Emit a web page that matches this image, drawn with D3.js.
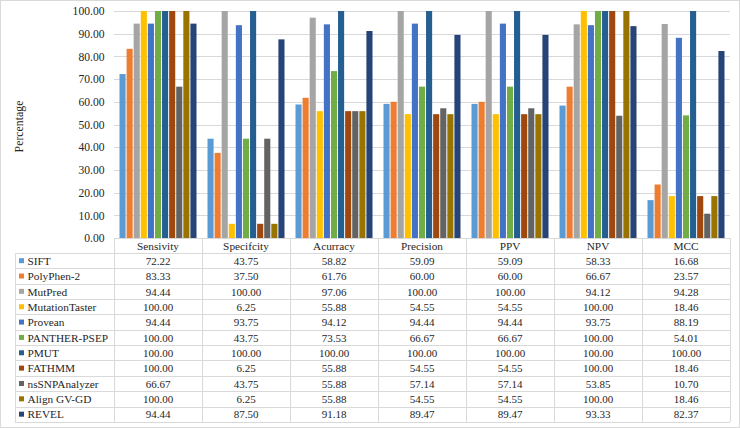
<!DOCTYPE html>
<html><head><meta charset="utf-8">
<script src="https://cdn.jsdelivr.net/npm/d3@7"></script>
<style>html,body{margin:0;padding:0;background:#fff;}svg{display:block;}
svg text{font-family:"Liberation Serif","Times New Roman",Times,Tinos,"DejaVu Serif","Noto Serif",serif;}</style>
</head><body>
<svg id="c" width="740" height="428"></svg>
<script>
const categories = ["Sensivity","Specifcity","Acurracy","Precision","PPV","NPV","MCC"];
const seriesNames = ["SIFT","PolyPhen-2","MutPred","MutationTaster","Provean","PANTHER-PSEP","PMUT","FATHMM","nsSNPAnalyzer","Align GV-GD","REVEL"];
const SIFT = [72.22,43.75,58.82,59.09,59.09,58.33,16.68];
const PolyPhen2 = [83.33,37.50,61.76,60.00,60.00,66.67,23.57];
const MutPred = [94.44,100.00,97.06,100.00,100.00,94.12,94.28];
const MutationTaster = [100.00,6.25,55.88,54.55,54.55,100.00,18.46];
const Provean = [94.44,93.75,94.12,94.44,94.44,93.75,88.19];
const PANTHER = [100.00,43.75,73.53,66.67,66.67,100.00,54.01];
const PMUT = [100.00,100.00,100.00,100.00,100.00,100.00,100.00];
const FATHMM = [100.00,6.25,55.88,54.55,54.55,100.00,18.46];
const nsSNP = [66.67,43.75,55.88,57.14,57.14,53.85,10.70];
const AlignGV = [100.00,6.25,55.88,54.55,54.55,100.00,18.46];
const REVEL = [94.44,87.50,91.18,89.47,89.47,93.33,82.37];
const values = [SIFT,PolyPhen2,MutPred,MutationTaster,Provean,PANTHER,PMUT,FATHMM,nsSNP,AlignGV,REVEL];
const colors = ["#5B9BD5","#ED7D31","#A5A5A5","#FFC000","#4472C4","#70AD47","#255E91","#9E480E","#636363","#997300","#264478"];
const yTicks = [0,10,20,30,40,50,60,70,80,90,100];

const svg = d3.select("#c");
const txt = "#262626";
const grid = "#D9D9D9";
const plotLeft = 114, plotRight = 730, plotTop = 11, base = 238;
const tableLeft = 15, headerH = 15, rowH = 15.35;

svg.append("rect").attr("x",0.5).attr("y",0.5).attr("width",739).attr("height",427)
  .attr("fill","#fff").attr("stroke","#D9D9D9");

const x0 = d3.scaleBand().domain(categories).range([plotLeft,plotRight]).padding(0);
const x1 = d3.scaleBand().domain(seriesNames).range([5.5, x0.bandwidth()-5.5]).paddingInner(0.14);
const y = d3.scaleLinear().domain([0,100]).range([base, plotTop]);

svg.append("g").selectAll("line").data(yTicks.filter(d=>d>0)).join("line")
  .attr("x1",plotLeft).attr("x2",plotRight).attr("y1",d=>Math.round(y(d))+0.5).attr("y2",d=>Math.round(y(d))+0.5)
  .attr("stroke",grid).attr("stroke-width",1);

const yAxis = d3.axisLeft(y).tickValues(yTicks).tickFormat(d3.format(".2f")).tickSize(0).tickPadding(9.5);
const ga = svg.append("g").attr("transform",`translate(${plotLeft},0)`).call(yAxis);
ga.select(".domain").remove();
ga.selectAll("text").attr("font-size",11.6).attr("fill",txt);

svg.append("text").attr("transform",`translate(23,${(plotTop+base)/2+2}) rotate(-90)`)
  .attr("text-anchor","middle").attr("font-size",11.8).attr("fill",txt)
  .text("Percentage");

seriesNames.forEach((s,i)=>{
  svg.append("g").selectAll("rect").data(categories.map((c,j)=>({c,v:values[i][j]}))).join("rect")
    .attr("x",d=>x0(d.c)+x1(s)).attr("width",x1.bandwidth())
    .attr("y",d=>y(d.v)).attr("height",d=>base-y(d.v)).attr("fill",colors[i]);
});

const tg = svg.append("g");
const tableBottom = base + headerH + rowH*seriesNames.length;
tg.append("line").attr("x1",plotLeft).attr("x2",plotRight).attr("y1",base+0.5).attr("y2",base+0.5).attr("stroke",grid);
for(let r=0;r<=seriesNames.length;r++){
  const yy = Math.round(base+headerH+rowH*r)+0.5;
  tg.append("line").attr("x1",tableLeft).attr("x2",plotRight).attr("y1",yy).attr("y2",yy).attr("stroke",grid);
}
tg.append("line").attr("x1",tableLeft+0.5).attr("x2",tableLeft+0.5).attr("y1",base+headerH).attr("y2",tableBottom).attr("stroke",grid);
categories.forEach(c=>{
  const xx = Math.round(x0(c))+0.5;
  tg.append("line").attr("x1",xx).attr("x2",xx).attr("y1",base).attr("y2",tableBottom).attr("stroke",grid);
});
tg.append("line").attr("x1",plotRight+0.5).attr("x2",plotRight+0.5).attr("y1",base).attr("y2",tableBottom).attr("stroke",grid);

tg.selectAll("text.h").data(categories).join("text").attr("class","h")
  .attr("x",d=>x0(d)+x0.bandwidth()/2).attr("y",base+headerH/2+4.2)
  .attr("text-anchor","middle").attr("font-size",11.3).attr("fill",txt).text(d=>d);

seriesNames.forEach((s,i)=>{
  const cy = base+headerH+rowH*i+rowH/2;
  tg.append("rect").attr("x",tableLeft+4).attr("y",cy-2.5).attr("width",5).attr("height",5).attr("fill",colors[i]);
  tg.append("text").attr("x",tableLeft+12.5).attr("y",cy+4.2).attr("font-size",11.3)
    .attr("fill",txt).text(s);
  tg.selectAll(null).data(categories.map((c,j)=>({c,v:values[i][j]}))).join("text")
    .attr("x",d=>x0(d.c)+x0.bandwidth()/2).attr("y",cy+4.2).attr("text-anchor","middle")
    .attr("font-size",11).attr("fill",txt).text(d=>d.v.toFixed(2));
});
</script>
</body></html>
